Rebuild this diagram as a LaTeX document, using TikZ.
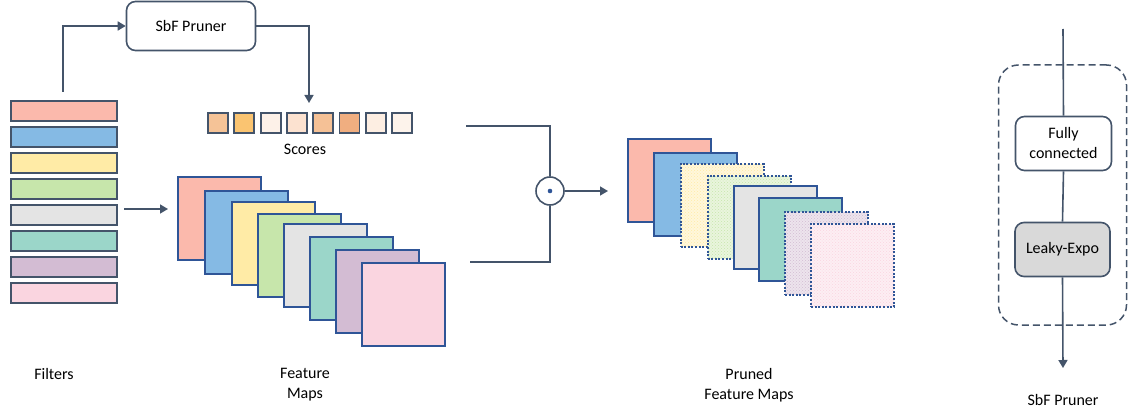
\documentclass[tikz,border=0pt]{standalone}
\usepackage{fontspec}
\setmainfont{Carlito}
\usetikzlibrary{arrows.meta,patterns}
\definecolor{ln}{HTML}{44546A}
\definecolor{bd}{HTML}{2F5597}
\definecolor{ca}{HTML}{FBB9AC}
\definecolor{cb}{HTML}{85BAE4}
\definecolor{cc}{HTML}{FFEBA6}
\definecolor{cd}{HTML}{C7E6AB}
\definecolor{ce}{HTML}{E4E4E4}
\definecolor{cf}{HTML}{9BD6C9}
\definecolor{cg}{HTML}{D3BCD3}
\definecolor{ch}{HTML}{FAD5E0}
\definecolor{sa}{HTML}{F5C397}
\definecolor{sb}{HTML}{FAC471}
\definecolor{sc}{HTML}{FDF1E8}
\definecolor{sd}{HTML}{FCE2D0}
\definecolor{se}{HTML}{F5C196}
\definecolor{sf}{HTML}{F0AE80}
\definecolor{sg}{HTML}{FDEEE2}
\definecolor{sh}{HTML}{FDF3EB}
\definecolor{lg}{HTML}{D9D9D9}
\tikzset{
  conn/.style={draw=ln, line width=1.6pt},
  arr/.style={conn, -{Triangle[length=8pt,width=9pt]}},
  filt/.style={draw=ln, line width=2pt, minimum width=106pt, minimum height=20pt, inner sep=0pt, anchor=north west},
  fmap/.style={draw=bd, line width=2pt, minimum width=83pt, minimum height=83pt, inner sep=0pt, anchor=north west},
  pmap/.style={draw=bd, line width=2pt, dash pattern=on 2pt off 1.6pt, minimum width=83pt, minimum height=83pt, inner sep=0pt, anchor=north west,
    preaction={fill=#1!40!white}, pattern=crosshatch dots, pattern color=#1},
  score/.style={draw=ln, line width=1.8pt, minimum size=20pt, inner sep=0pt},
  rbox/.style={draw=ln, line width=1.6pt, rounded corners=9pt, inner sep=0pt, align=center},
  lbl/.style={font=\fontsize{16}{20}\selectfont, align=center, inner sep=0pt},
}
\begin{document}
\begin{tikzpicture}[x=1pt,y=-1pt]
\useasboundingbox (0,0) rectangle (1128,412);
% filters
\foreach \c [count=\i] in {ca,cb,cc,cd,ce,cf,cg,ch}
  \node[filt, fill=\c] (f\i) at (10, 100+26*\i-26) {};
\node[lbl] (lf) at (54,374) {Filters};
% SbF pruner
\node[rbox, fill=white, minimum width=129pt, minimum height=49pt, font=\fontsize{16}{20}\selectfont] (pr) at (191,26) {SbF Pruner};
\coordinate (fup) at (62.7,92);
\draw[arr] (fup) |- (pr.west);
% scores
\foreach \c [count=\i] in {sa,sb,sc,sd,se,sf,sg,sh}
  \node[score, fill=\c] (s\i) at (218+26.3*\i-26.3, 123) {};
\coordinate (stop) at (309,103);
\draw[arr] (pr.east) -| (stop);
\node[lbl] (ls) at (305,149) {Scores};
% feature maps
\node[fmap, fill=ca] (m1) at (177,176) {};
\node[fmap, fill=cb] (m2) at (204,190) {};
\node[fmap, fill=cc] (m3) at (230.5,201) {};
\node[fmap, fill=cd] (m4) at (257,212.5) {};
\node[fmap, fill=ce] (m5) at (283,222.5) {};
\node[fmap, fill=cf] (m6) at (308.5,235.5) {};
\node[fmap, fill=cg] (m7) at (334.5,248.5) {};
\node[fmap, fill=ch] (m8) at (360.5,261.5) {};
\coordinate (fa) at (124,209);
\coordinate (fb) at (168,209);
\draw[arr] (fa) -- (fb);
\node[lbl] (lm) at (305,385) {Feature\\Maps};
% odot
\node[draw=ln, line width=1.6pt, circle, minimum size=28pt, inner sep=0pt] (od) at (550,191) {};
\fill[bd] (od.center) circle (2.3pt);
\coordinate (ia) at (466,126);
\coordinate (ib) at (470,262);
\draw[conn] (ia) -| (od.north);
\draw[conn] (ib) -| (od.south);
\coordinate (oa) at (608,191);
\draw[arr] (od.east) -- (oa);
% pruned maps
\node[fmap, fill=ca] (p1) at (626.5,137.5) {};
\node[fmap, fill=cb] (p2) at (653,152) {};
\node[pmap=cc] (p3) at (679.5,162.5) {};
\node[pmap=cd] (p4) at (706.5,174.5) {};
\node[fmap, fill=ce] (p5) at (732.5,184.5) {};
\node[fmap, fill=cf] (p6) at (758,197) {};
\node[pmap=cg] (p7) at (784,210.5) {};
\node[pmap=ch] (p8) at (810,223) {};
\node[lbl] (lp) at (749,385) {Pruned\\Feature Maps};
% right panel
\node[draw=ln, line width=1.5pt, dash pattern=on 7pt off 4pt, rounded corners=20pt, minimum width=128pt, minimum height=260pt, inner sep=0pt] (db) at (1062.5,195) {};
\node[rbox, fill=white, minimum width=96pt, minimum height=54pt, font=\fontsize{16}{20}\selectfont] (fc) at (1063.5,143.5) {Fully\\connected};
\node[rbox, fill=lg, minimum width=95pt, minimum height=54pt, font=\fontsize{16}{20}\selectfont] (le) at (1062.5,249.5) {Leaky-Expo};
\coordinate (rt) at (1063,29);
\coordinate (rb) at (1063,368);
\draw[conn] (rt) -- (fc.north);
\draw[conn] (fc.south) -- (le.north);
\draw[arr] (le.south) -- (rb);
\node[lbl] (lr) at (1063,400) {SbF Pruner};
\end{tikzpicture}
\end{document}
